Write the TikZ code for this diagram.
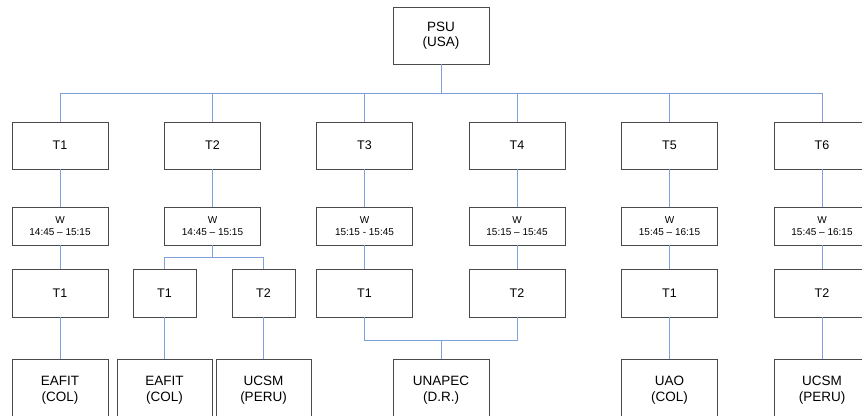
\documentclass[tikz,border=0pt]{standalone}
\usepackage{fontspec}
\setmainfont{Liberation Sans}
\definecolor{boxline}{HTML}{4A4A4A}
\definecolor{conn}{HTML}{7FA0DA}
\begin{document}
\begin{tikzpicture}[x=1pt,y=-1pt,
  box/.style={draw=boxline,line width=0.9pt,fill=white,rectangle,inner sep=0pt,align=center,minimum width=96pt},
  big/.style={box,minimum height=57pt,font=\fontsize{13.5}{15.5}\selectfont},
  tbox/.style={box,minimum height=47pt,font=\fontsize{12.5}{14}\selectfont},
  wbox/.style={box,minimum height=38pt,font=\fontsize{10}{11.5}\selectfont},
  narrow/.style={minimum width=63pt},
  link/.style={draw=conn,line width=0.9pt}]
\useasboundingbox[fill=white] (0,0) rectangle (862,415);
\coordinate (bus) at (0,93);
\coordinate (br) at (0,257);
\coordinate (mg) at (0,340);
% nodes
\node[big] (psu) at (441,35.5) {PSU\\(USA)};
\node[tbox] (t1) at (60,145.5) {T1};
\node[tbox] (t2) at (212.5,145.5) {T2};
\node[tbox] (t3) at (364.5,145.5) {T3};
\node[tbox] (t4) at (517,145.5) {T4};
\node[tbox] (t5) at (669.5,145.5) {T5};
\node[tbox] (t6) at (822,145.5) {T6};
\node[wbox] (w1) at (60,226) {W\\14:45 -- 15:15};
\node[wbox] (w2) at (212.5,226) {W\\14:45 -- 15:15};
\node[wbox] (w3) at (364.5,226) {W\\15:15 - 15:45};
\node[wbox] (w4) at (517,226) {W\\15:15 -- 15:45};
\node[wbox] (w5) at (669.5,226) {W\\15:45 -- 16:15};
\node[wbox] (w6) at (822,226) {W\\15:45 -- 16:15};
\node[tbox,minimum height=48pt] (s1) at (60,293) {T1};
\node[tbox,narrow,minimum height=48pt] (s2a) at (164.5,293) {T1};
\node[tbox,narrow,minimum height=48pt] (s2b) at (263.5,293) {T2};
\node[tbox,minimum height=48pt] (s3) at (364.5,293) {T1};
\node[tbox,minimum height=48pt] (s4) at (517,293) {T2};
\node[tbox,minimum height=48pt] (s5) at (669.5,293) {T1};
\node[tbox,minimum height=48pt] (s6) at (822,293) {T2};
\tikzset{bot/.style={big,minimum height=62pt}}
\node[bot] (u1) at (60,390) {EAFIT\\(COL)};
\node[bot,minimum width=95pt] (u2) at (164.5,390) {EAFIT\\(COL)};
\node[bot,minimum width=95pt] (u3) at (263.5,390) {UCSM\\(PERU)};
\node[bot] (u4) at (441,390) {UNAPEC\\(D.R.)};
\node[bot] (u5) at (669.5,390) {UAO\\(COL)};
\node[bot] (u6) at (822,390) {UCSM\\(PERU)};
% connectors
\foreach \t in {t1,t2,t3,t4,t5,t6}
  \path[link] (psu.south) -- (psu.south |- bus) -| (\t.north);
\foreach \a/\b in {t1/w1,t2/w2,t3/w3,t4/w4,t5/w5,t6/w6,w1/s1,w3/s3,w4/s4,w5/s5,w6/s6,s1/u1,s2a/u2,s2b/u3,s5/u5,s6/u6}
  \path[link] (\a.south) -- (\b.north);
\path[link] (w2.south) -- (w2.south |- br) -| (s2a.north);
\path[link] (w2.south |- br) -| (s2b.north);
\path[link] (s3.south) -- (s3.south |- mg) -| (s4.south);
\path[link] (u4.north) -- (u4.north |- mg);
\end{tikzpicture}
\end{document}
